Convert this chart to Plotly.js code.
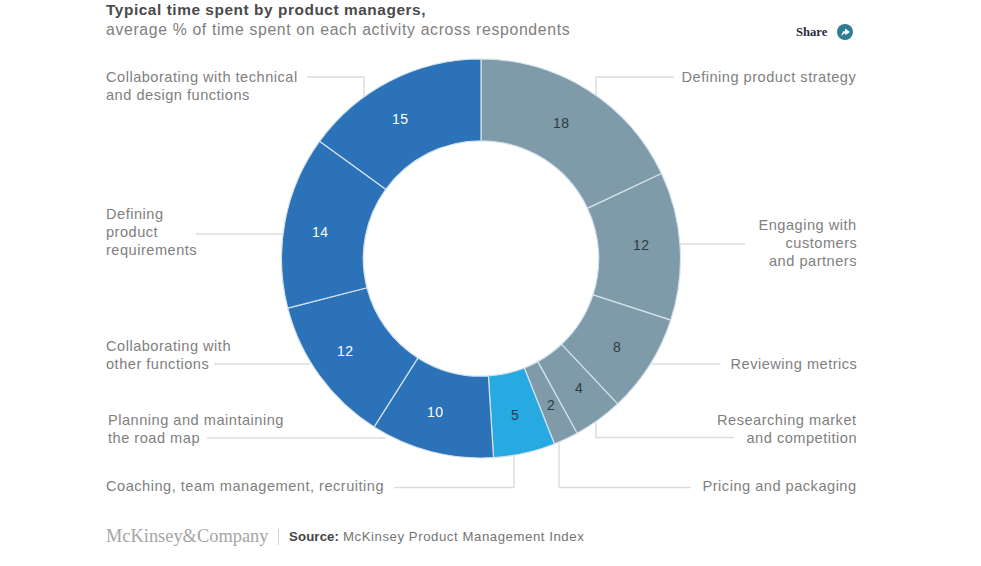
<!DOCTYPE html>
<html>
<head>
<meta charset="utf-8">
<script src="https://cdn.plot.ly/plotly-3.0.1.min.js"></script>
<style>
html,body{margin:0;padding:0;background:#fff;overflow:hidden}
#chart{width:981px;height:566px}
.annotation text{letter-spacing:.5px}
.annotation[data-index="0"] text,.annotation[data-index="1"] text{letter-spacing:0}
.annotation[data-index="2"] text{letter-spacing:.65px}
.annotation[data-index="3"] text{letter-spacing:.56px}
.annotation[data-index="4"] text{letter-spacing:.15px}
.annotation[data-index="5"] text{letter-spacing:.56px}
</style>
</head>
<body>
<div id="chart"></div>
<script>
var categories = ["Defining product strategy","Engaging with customers and partners","Reviewing metrics","Researching market and competition","Pricing and packaging","Coaching, team management, recruiting","Planning and maintaining the road map","Collaborating with other functions","Defining product requirements","Collaborating with technical and design functions"];
var values = [18,12,8,4,2,5,10,12,14,15];
var sliceColors = ["#7f9aa9","#7f9aa9","#7f9aa9","#7f9aa9","#7f9aa9","#27a9e1","#2b72b8","#2b72b8","#2b72b8","#2b72b8"];
var valueColors = ["#2f3a42","#2f3a42","#2f3a42","#2f3a42","#2f3a42","#2f3a42","#ffffff","#ffffff","#ffffff","#ffffff"];
var valueNudges = [[-5,-1.5],[1,-3.5],[2,3.5],[4.5,0.5],[2,2.5],[-1,1.5],[-6.5,-0.5],[-7,-0.5],[-5,3.5],[-9,2.5]];

var W = 981, H = 566;
var CX = 481, CY = 258.5, R = 199.5, MID = 159;
function px(x){return x/W;}
function py(y){return 1-y/H;}
var SANS = "Liberation Sans, Arial, sans-serif";
var SERIF = "Liberation Serif, Georgia, serif";
var LABEL = "#808080", FS = 14.6, LEAD = 17.6;

function note(text,x,y,anchor,size,color,family){
  return {text:text,xref:"paper",yref:"paper",x:px(x),y:py(y),xanchor:anchor,yanchor:"middle",align:anchor==="right"?"right":"left",showarrow:false,borderpad:0,
    font:{family:family||SANS,size:size||FS,color:color||LABEL}};
}
function lines(list,x,yCentre,anchor){
  var top = yCentre-(list.length-1)*LEAD/2;
  return list.map(function(t,i){return note(t,x,top+i*LEAD,anchor);});
}
var annotations = [
  note("McKinsey&amp;Company",105,536,"left",18.4,"#a5a5a5",SERIF),
  note("<b>Share</b>",795,32.5,"left",12.6,"#2a2a3a",SERIF),
  note("average % of time spent on each activity across respondents",105,29.5,"left",15.8,"#808080"),
  note("<b>Typical time spent by product managers,</b>",105,9,"left",15.4,"#4a4a4a"),
  note("<b>Source:</b>",288,536.5,"left",13.2,"#444444"),
  note("McKinsey Product Management Index",342,536.5,"left",13.2,"#747474")
].concat(
  lines(["Collaborating with technical","and design functions"],105,86,"left"),
  lines(["Defining","product","requirements"],105,232,"left"),
  lines(["Collaborating with","other functions"],105,355,"left"),
  lines(["Planning and maintaining","the road map"],107,429,"left"),
  lines(["Coaching, team management, recruiting"],105,485.5,"left"),
  lines(["Defining product strategy"],857.5,77,"right"),
  lines(["Engaging with","customers","and partners"],857.5,243,"right"),
  lines(["Reviewing metrics"],857.5,364,"right"),
  lines(["Researching market","and competition"],857.5,429,"right"),
  lines(["Pricing and packaging"],857.5,485.5,"right")
);

// Value labels: placed at each slice's mid-angle on the ring, from the data, with a small nudge
var total = values.reduce(function(a,b){return a+b;},0), cum = 0;
values.forEach(function(v,i){
  var a = (cum+v/2)/total*2*Math.PI; cum += v;
  annotations.push(note(String(v),CX+MID*Math.sin(a)+valueNudges[i][0],CY-MID*Math.cos(a)+valueNudges[i][1],"center",14,valueColors[i]));
});

function path(pts){
  return {type:"path",xref:"paper",yref:"paper",layer:"below",
    path:pts.map(function(p,i){return (i?"L":"M")+px(p[0])+","+py(p[1]);}).join(" "),
    line:{color:"#dcdcdc",width:1.4}};
}
var shapes = [
  path([[307,77],[364,77],[364,100]]),
  path([[196,234],[285,234]]),
  path([[214,364],[310,364]]),
  path([[207,438],[385,438]]),
  path([[394,487.5],[514,487.5],[514,455]]),
  path([[559,441],[559,487.5],[691,487.5]]),
  path([[596,420],[596,437.5],[734,437.5]]),
  path([[650,364],[720,364]]),
  path([[680,244],[745,244]]),
  path([[596,100],[596,77],[674,77]]),
  {type:"line",xref:"paper",yref:"paper",x0:px(278.5),x1:px(278.5),y0:py(529),y1:py(545),line:{color:"#d4d4d4",width:1}},
  {type:"circle",xref:"paper",yref:"paper",x0:px(837),x1:px(853),y0:py(24),y1:py(40),fillcolor:"#2f7d92",line:{width:0}},
  {type:"path",xref:"paper",yref:"paper",path:"M"+px(841)+","+py(36)+" L"+px(843)+","+py(31.5)+" L"+px(845)+","+py(31)+" L"+px(845)+","+py(28.5)+" L"+px(850)+","+py(32)+" L"+px(845.5)+","+py(35)+" L"+px(845)+","+py(33)+" Z",fillcolor:"#ffffff",line:{width:0}}
];

var trace = {
  type:"pie",
  labels:categories,
  values:values,
  sort:false,
  direction:"clockwise",
  rotation:0,
  hole:0.59,
  textinfo:"none",
  marker:{colors:sliceColors,line:{color:"#d3e2ec",width:1.2}},
  domain:{x:[px(CX-R),px(CX+R)],y:[py(CY+R),py(CY-R)]},
  showlegend:false,
  hoverinfo:"label+value"
};
Plotly.newPlot("chart",[trace],{
  width:W,height:H,margin:{l:0,r:0,t:0,b:0},
  paper_bgcolor:"#ffffff",plot_bgcolor:"#ffffff",
  annotations:annotations,shapes:shapes,showlegend:false
},{displayModeBar:false,staticPlot:true});
</script>
</body>
</html>
